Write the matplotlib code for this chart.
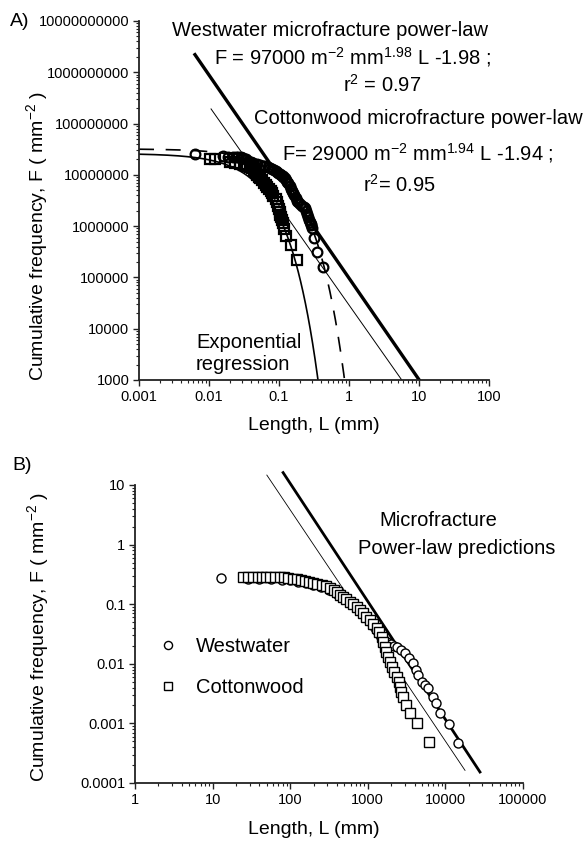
import numpy as np
import matplotlib
matplotlib.use("Agg")
import matplotlib.pyplot as plt
from matplotlib.ticker import FixedLocator, LogLocator, NullFormatter

plt.rcParams['font.family'] = ['Liberation Sans', 'DejaVu Sans']
plt.rcParams['mathtext.fontset'] = 'custom'
plt.rcParams['mathtext.rm'] = 'Liberation Sans'
plt.rcParams['mathtext.it'] = 'Liberation Sans:italic'

# ---- panel A data (log10 of length in mm, log10 of cumulative frequency) ----
ww_a_logL = [-2.20, -1.80, -1.73, -1.66, -1.62, -1.59, -1.55, -1.51, -1.47, -1.44,
             -1.40, -1.37, -1.32, -1.27, -1.23, -1.20, -1.16, -1.13,
             -1.10, -1.07, -1.05, -1.03, -1.01, -0.99, -0.97, -0.95, -0.94, -0.92,
             -0.90, -0.88, -0.87, -0.85, -0.83, -0.81, -0.80, -0.78, -0.76, -0.74,
             -0.73, -0.70, -0.67, -0.65, -0.63, -0.62, -0.60, -0.59, -0.57, -0.56,
             -0.55, -0.54, -0.53, -0.50, -0.46, -0.37]
ww_a_logF = [7.41, 7.37, 7.35, 7.35, 7.34, 7.35, 7.34, 7.33, 7.30, 7.27,
             7.25, 7.23, 7.21, 7.19, 7.18, 7.17, 7.15, 7.13,
             7.11, 7.09, 7.07, 7.06, 7.03, 7.01, 6.99, 6.97, 6.96, 6.93,
             6.89, 6.86, 6.84, 6.79, 6.73, 6.68, 6.65, 6.60, 6.55, 6.50,
             6.47, 6.43, 6.40, 6.37, 6.35, 6.30, 6.23, 6.18, 6.12, 6.08,
             6.04, 6.02, 5.97, 5.77, 5.50, 5.20]

cw_a_logL = [-1.99, -1.91, -1.70, -1.63, -1.56, -1.50, -1.46, -1.42, -1.39,
             -1.36, -1.34, -1.31, -1.29, -1.27, -1.24, -1.22, -1.19, -1.17, -1.15,
             -1.12, -1.10, -1.08, -1.05, -1.03, -1.01, -1.00, -0.99, -0.98, -0.97,
             -0.96, -0.95, -0.93, -0.90, -0.83, -0.74]
cw_a_logF = [7.31, 7.31, 7.25, 7.23, 7.21, 7.19, 7.17, 7.15, 7.13,
             7.09, 7.05, 7.00, 6.96, 6.93, 6.90, 6.85, 6.80, 6.76, 6.72,
             6.68, 6.65, 6.59, 6.53, 6.47, 6.40, 6.34, 6.28, 6.22, 6.17,
             6.12, 6.06, 5.95, 5.81, 5.63, 5.34]

# exponential regressions  F = a * exp(-b L)
ww_exp_a, ww_exp_b, ww_exp_Lmax = 3.2e7, 12.0, 0.9
cw_exp_a, cw_exp_b, cw_exp_Lmax = 2.6e7, 28.2, 0.36

# power laws  F = C * L^-D
ww_pl_C, ww_pl_D = 97000, 1.98
cw_pl_C, cw_pl_D = 29000, 1.94
ww_pl_rangeA = (0.0063, 10.1)
cw_pl_rangeA = (0.0107, 5.67)
ww_pl_rangeB = (81, 27900)
cw_pl_rangeB = (50, 17900)

# ---- panel B data ----
ww_b_logL = [1.108, 1.45, 1.60, 1.75, 1.90, 2.00, 2.10, 2.20, 2.30, 2.40, 2.50,
             2.60, 2.70, 2.80, 2.90, 3.00, 3.08, 3.15, 3.20,
             3.25, 3.30, 3.34, 3.38, 3.43, 3.48, 3.53, 3.58, 3.62, 3.65,
             3.70, 3.74, 3.78, 3.84, 3.88, 3.93, 4.05, 4.16]
ww_b_logF = [-0.56, -0.57, -0.57, -0.58, -0.59, -0.60, -0.62, -0.64, -0.67, -0.71, -0.76,
             -0.83, -0.91, -1.00, -1.11, -1.24, -1.36, -1.48, -1.56,
             -1.63, -1.67, -1.70, -1.72, -1.77, -1.82, -1.90, -1.99, -2.10, -2.19,
             -2.31, -2.36, -2.41, -2.56, -2.66, -2.83, -3.01, -3.33]

cw_b_logL = [1.39, 1.45, 1.52, 1.58, 1.64, 1.69, 1.74, 1.80, 1.87, 1.92, 1.97,
             2.03, 2.09, 2.14, 2.19, 2.24, 2.29, 2.35, 2.41, 2.46, 2.51, 2.56,
             2.60, 2.64, 2.68, 2.72, 2.77, 2.81, 2.86, 2.90, 2.94, 2.98, 3.03,
             3.07, 3.12, 3.15, 3.18, 3.20, 3.22, 3.24, 3.26, 3.28, 3.31, 3.34,
             3.38, 3.40, 3.41, 3.43, 3.45, 3.49, 3.55, 3.63, 3.79]
cw_b_logF = [-0.54, -0.54, -0.54, -0.54, -0.54, -0.54, -0.54, -0.55, -0.55, -0.55, -0.56,
             -0.57, -0.58, -0.59, -0.61, -0.62, -0.64, -0.66, -0.68, -0.70, -0.73, -0.76,
             -0.80, -0.84, -0.88, -0.92, -0.96, -1.00, -1.05, -1.10, -1.15, -1.21, -1.27,
             -1.33, -1.40, -1.47, -1.55, -1.63, -1.72, -1.80, -1.89, -1.97, -2.05, -2.13,
             -2.22, -2.30, -2.39, -2.47, -2.56, -2.69, -2.83, -3.00, -3.31]

xticks_a = [0.001, 0.01, 0.1, 1, 10, 100]
xlabels_a = ['0.001', '0.01', '0.1', '1', '10', '100']
yticks_a = [1e3, 1e4, 1e5, 1e6, 1e7, 1e8, 1e9, 1e10]
ylabels_a = ['1000', '10000', '100000', '1000000', '10000000', '100000000',
             '1000000000', '10000000000']
xticks_b = [1, 10, 100, 1000, 10000, 100000]
xlabels_b = ['1', '10', '100', '1000', '10000', '100000']
yticks_b = [1e-4, 1e-3, 1e-2, 1e-1, 1, 10]
ylabels_b = ['0.0001', '0.001', '0.01', '0.1', '1', '10']

W, H = 586, 842
fig = plt.figure(figsize=(W / 100, H / 100), dpi=100)


def fx(px):
    return px / W


def fy(py):
    return 1 - py / H


def style_axes(ax, xt, xl, yt, yl):
    ax.set_xscale('log')
    ax.set_yscale('log')
    for s in ['top', 'right']:
        ax.spines[s].set_visible(False)
    for s in ['left', 'bottom']:
        ax.spines[s].set_linewidth(1.3)
        ax.spines[s].set_color('#222222')
    ax.xaxis.set_major_locator(FixedLocator(xt))
    ax.set_xticklabels(xl)
    ax.yaxis.set_major_locator(FixedLocator(yt))
    ax.set_yticklabels(yl)
    ax.xaxis.set_minor_locator(LogLocator(base=10, subs=np.arange(2, 10), numticks=20))
    ax.yaxis.set_minor_locator(LogLocator(base=10, subs=np.arange(2, 10), numticks=20))
    ax.xaxis.set_minor_formatter(NullFormatter())
    ax.yaxis.set_minor_formatter(NullFormatter())
    ax.tick_params(which='major', direction='out', length=4, width=1,
                   labelsize=10.5, color='#222222', pad=3)
    ax.tick_params(which='minor', direction='out', length=2.5, width=0.8,
                   color='#222222')


# ---------------- panel A ----------------
axA = fig.add_axes([fx(139), fy(380), fx(350), 359 / H])
axA.set_xlim(0.001, 100)
axA.set_ylim(1e3, 1e10)
style_axes(axA, xticks_a, xlabels_a, yticks_a, ylabels_a)

Lw = np.logspace(np.log10(ww_pl_rangeA[0]), np.log10(ww_pl_rangeA[1]), 50)
axA.plot(Lw, ww_pl_C * Lw ** -ww_pl_D, color='black', lw=2.4)
Lc = np.logspace(np.log10(cw_pl_rangeA[0]), np.log10(cw_pl_rangeA[1]), 50)
axA.plot(Lc, cw_pl_C * Lc ** -cw_pl_D, color='black', lw=0.7)

Le = np.logspace(-3, np.log10(ww_exp_Lmax), 300)
axA.plot(Le, ww_exp_a * np.exp(-ww_exp_b * Le), color='black', lw=1.2,
         dashes=(9, 7))
Le = np.logspace(-3, np.log10(cw_exp_Lmax), 300)
axA.plot(Le, cw_exp_a * np.exp(-cw_exp_b * Le), color='black', lw=1.2)

axA.plot(10 ** np.array(ww_a_logL), 10 ** np.array(ww_a_logF), 'o', ms=7,
         mfc='none', mec='black', mew=1.6, ls='none')
axA.plot(10 ** np.array(cw_a_logL), 10 ** np.array(cw_a_logF), 's', ms=7,
         mfc='none', mec='black', mew=1.6, ls='none')

fig.text(fx(10), fy(21), 'A)', fontsize=14, ha='left', va='center')
fig.text(fx(37), fy(236), 'Cumulative frequency, F ( mm$^{-2}$ )', fontsize=14,
         rotation=90, ha='center', va='center')
fig.text(fx(314), fy(425), 'Length, L (mm)', fontsize=14, ha='center', va='center')

fs_ann = 14.5
fig.text(fx(172), fy(30), 'Westwater microfracture power-law', fontsize=fs_ann,
         ha='left', va='center')
fig.text(fx(214), fy(57), 'F = 97000 m$^{-2}$ mm$^{1.98}$ L -1.98 ;',
         fontsize=fs_ann, ha='left', va='center')
fig.text(fx(343), fy(85), 'r$^{2}$ = 0.97', fontsize=fs_ann, ha='left', va='center')
fig.text(fx(254), fy(118), 'Cottonwood microfracture power-law', fontsize=fs_ann,
         ha='left', va='center')
fig.text(fx(282), fy(153), 'F= 29000 m$^{-2}$ mm$^{1.94}$ L -1.94 ;',
         fontsize=fs_ann, ha='left', va='center')
fig.text(fx(363), fy(185), 'r$^{2}$= 0.95', fontsize=fs_ann, ha='left', va='center')
fig.text(fx(196), fy(342), 'Exponential', fontsize=fs_ann, ha='left', va='center')
fig.text(fx(196), fy(364), 'regression', fontsize=fs_ann, ha='left', va='center')

# ---------------- panel B ----------------
axB = fig.add_axes([fx(135), fy(783), fx(388), 298 / H])
axB.set_xlim(1, 1e5)
axB.set_ylim(1e-4, 10)
style_axes(axB, xticks_b, xlabels_b, yticks_b, ylabels_b)

Lw = np.logspace(np.log10(ww_pl_rangeB[0]), np.log10(ww_pl_rangeB[1]), 50)
axB.plot(Lw, ww_pl_C * Lw ** -ww_pl_D, color='black', lw=2.0, clip_on=False)
Lc = np.logspace(np.log10(cw_pl_rangeB[0]), np.log10(cw_pl_rangeB[1]), 50)
axB.plot(Lc, cw_pl_C * Lc ** -cw_pl_D, color='black', lw=0.6, clip_on=False)

axB.plot(10 ** np.array(ww_b_logL), 10 ** np.array(ww_b_logF), 'o', ms=6.5,
         mfc='white', mec='black', mew=1.0, ls='none', label='Westwater')
axB.plot(10 ** np.array(cw_b_logL), 10 ** np.array(cw_b_logF), 's', ms=6.5,
         mfc='white', mec='black', mew=1.0, ls='none', label='Cottonwood')

axB.legend(loc='upper left', bbox_to_anchor=(0.012, 0.55), frameon=False,
           fontsize=fs_ann, handlelength=1.0, handletextpad=0.9,
           labelspacing=1.1, markerscale=0.9)

fig.text(fx(12), fy(466), 'B)', fontsize=14, ha='left', va='center')
fig.text(fx(38), fy(637), 'Cumulative frequency, F ( mm$^{-2}$ )', fontsize=14,
         rotation=90, ha='center', va='center')
fig.text(fx(314), fy(830), 'Length, L (mm)', fontsize=14, ha='center', va='center')
fig.text(fx(379), fy(520), 'Microfracture', fontsize=fs_ann, ha='left', va='center')
fig.text(fx(358), fy(548), 'Power-law predictions', fontsize=fs_ann, ha='left',
         va='center')

fig.savefig('out.png', dpi=100)
